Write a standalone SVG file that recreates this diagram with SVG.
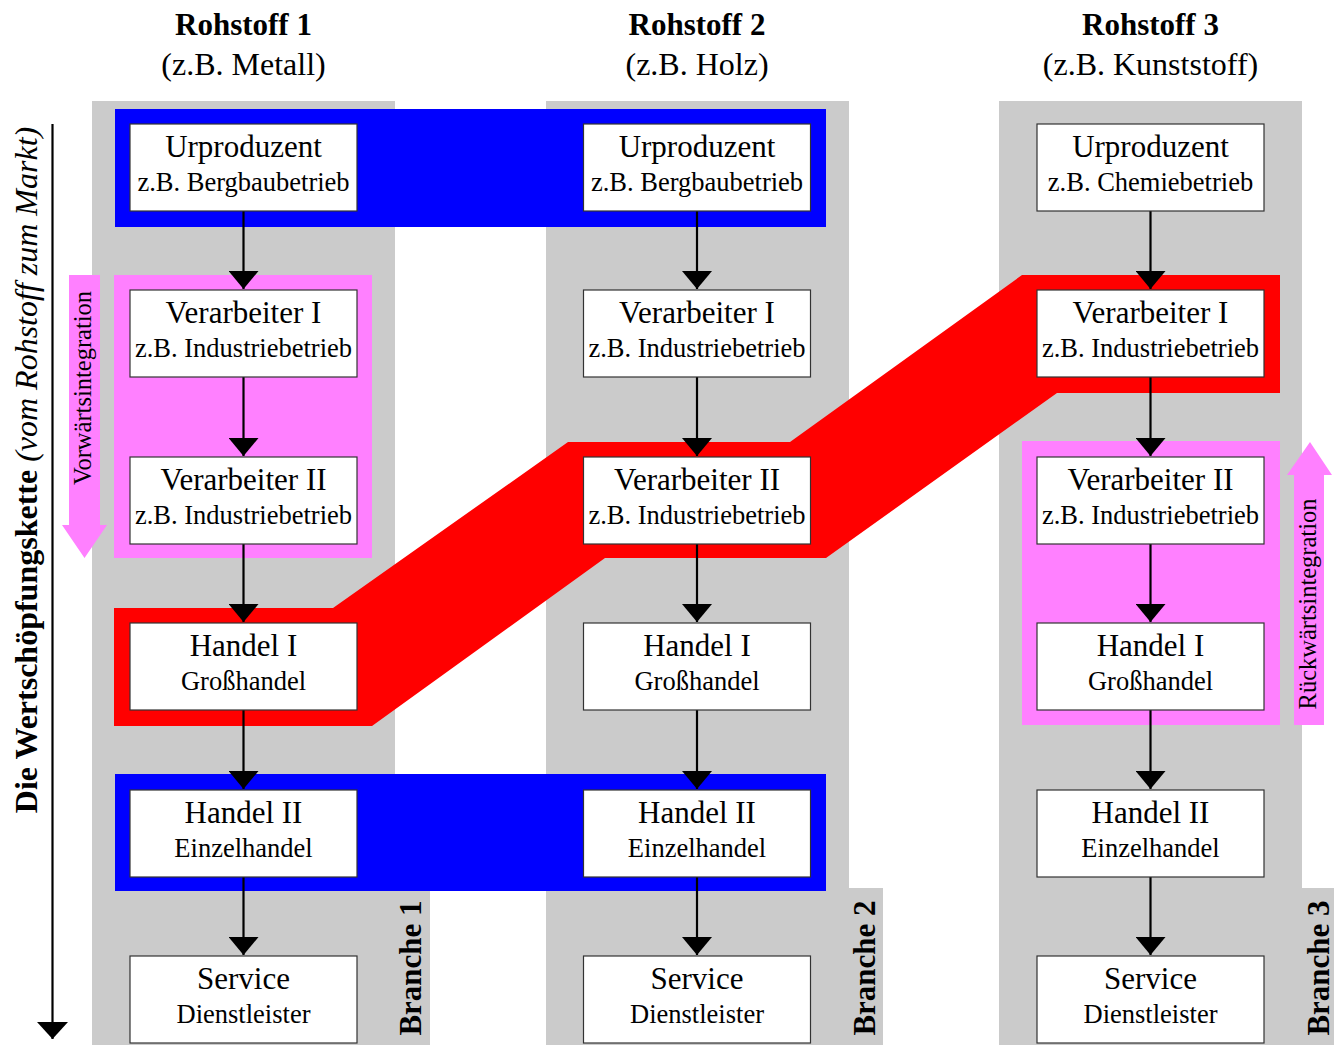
<svg xmlns="http://www.w3.org/2000/svg" width="1334" height="1045" viewBox="0 0 1334 1045">
<defs>
<style>
text{font-family:"Liberation Serif","Times New Roman",serif;fill:#000}
.col{fill:#cbcbcb}
.box{fill:#fff;stroke:#333;stroke-width:1.2}
.t1{font-size:31px;text-anchor:middle}
.t2{font-size:26.5px;text-anchor:middle}
.hd{font-size:31px;font-weight:bold;text-anchor:middle}
.sub{font-size:32px;text-anchor:middle}
.br{font-size:31px;font-weight:bold;text-anchor:middle}
.ln{stroke:#000;stroke-width:2.2;fill:none;marker-end:url(#ah)}
.pink{fill:#ff80ff}
</style>
<marker id="ah" markerUnits="userSpaceOnUse" markerWidth="18" markerHeight="30" viewBox="0 0 18 30" refX="18" refY="15" orient="auto">
<path d="M0,0 L18,15 L0,30 Z" fill="#000"/>
</marker>
<marker id="ah2" markerUnits="userSpaceOnUse" markerWidth="17" markerHeight="31" viewBox="0 0 17 31" refX="17" refY="15.5" orient="auto">
<path d="M0,0 L17,15.5 L0,31 Z" fill="#000"/>
</marker>
</defs>
<rect width="1334" height="1045" fill="#fff"/>

<g id="columns">
<rect class="col" x="92" y="101" width="303" height="944"/>
<rect class="col" x="395" y="888" width="35" height="157"/>
<rect class="col" x="546" y="101" width="303" height="944"/>
<rect class="col" x="849" y="888" width="34" height="157"/>
<rect class="col" x="999" y="101" width="303" height="944"/>
<rect class="col" x="1302" y="888" width="32" height="157"/>
</g>

<g id="highlights">
<rect x="115" y="109" width="711" height="118" fill="#0000ff"/>
<rect x="115" y="774" width="711" height="117" fill="#0000ff"/>
<polygon points="114,608 333,608 568,442 790,442 1022,275 1280,275 1280,393 1057,393 826,558 605,558 372,726 114,726" fill="#ff0000"/>
<rect class="pink" x="114" y="275" width="258" height="283"/>
<rect class="pink" x="1022" y="441" width="258" height="284"/>
<polygon class="pink" points="69,275 100,275 100,525 107,525 84.5,558 62,525 69,525"/>
<polygon class="pink" points="1294,725 1324,725 1324,475 1332,475 1310,442 1287,475 1294,475"/>
</g>

<g id="labels">
<text class="hd" x="243.5" y="35">Rohstoff 1</text>
<text class="sub" x="243.5" y="75">(z.B. Metall)</text>
<text class="hd" x="697" y="35">Rohstoff 2</text>
<text class="sub" x="697" y="75">(z.B. Holz)</text>
<text class="hd" x="1150.5" y="35">Rohstoff 3</text>
<text class="sub" x="1150.5" y="75">(z.B. Kunststoff)</text>
<text transform="translate(37,470) rotate(-90)" style="font-size:32px;text-anchor:middle"><tspan font-weight="bold">Die Wertschöpfungskette</tspan> <tspan font-style="italic">(vom Rohstoff zum Markt)</tspan></text>
<text transform="translate(91,388) rotate(-90)" style="font-size:24.5px;text-anchor:middle">Vorwärtsintegration</text>
<text transform="translate(1316,604) rotate(-90)" style="font-size:24.5px;text-anchor:middle">Rückwärtsintegration</text>
<text class="br" transform="translate(421,968) rotate(-90)">Branche 1</text>
<text class="br" transform="translate(875,968) rotate(-90)">Branche 2</text>
<text class="br" transform="translate(1329,968) rotate(-90)">Branche 3</text>
</g>

<g id="connectors">
<line x1="52.5" y1="124" x2="52.5" y2="1039" stroke="#000" stroke-width="2.2" marker-end="url(#ah2)"/>
<line class="ln" x1="243.5" y1="211" x2="243.5" y2="289"/>
<line class="ln" x1="243.5" y1="377" x2="243.5" y2="456"/>
<line class="ln" x1="243.5" y1="544" x2="243.5" y2="622"/>
<line class="ln" x1="243.5" y1="710" x2="243.5" y2="789"/>
<line class="ln" x1="243.5" y1="877" x2="243.5" y2="955"/>
<line class="ln" x1="697" y1="211" x2="697" y2="289"/>
<line class="ln" x1="697" y1="377" x2="697" y2="456"/>
<line class="ln" x1="697" y1="544" x2="697" y2="622"/>
<line class="ln" x1="697" y1="710" x2="697" y2="789"/>
<line class="ln" x1="697" y1="877" x2="697" y2="955"/>
<line class="ln" x1="1150.5" y1="211" x2="1150.5" y2="289"/>
<line class="ln" x1="1150.5" y1="377" x2="1150.5" y2="456"/>
<line class="ln" x1="1150.5" y1="544" x2="1150.5" y2="622"/>
<line class="ln" x1="1150.5" y1="710" x2="1150.5" y2="789"/>
<line class="ln" x1="1150.5" y1="877" x2="1150.5" y2="955"/>
</g>

<g id="n1-1"><rect class="box" x="130" y="124" width="227" height="87"/><text class="t1" x="243.5" y="157">Urproduzent</text><text class="t2" x="243.5" y="191">z.B. Bergbaubetrieb</text></g>
<g id="n1-2"><rect class="box" x="130" y="290" width="227" height="87"/><text class="t1" x="243.5" y="323">Verarbeiter I</text><text class="t2" x="243.5" y="357">z.B. Industriebetrieb</text></g>
<g id="n1-3"><rect class="box" x="130" y="457" width="227" height="87"/><text class="t1" x="243.5" y="490">Verarbeiter II</text><text class="t2" x="243.5" y="524">z.B. Industriebetrieb</text></g>
<g id="n1-4"><rect class="box" x="130" y="623" width="227" height="87"/><text class="t1" x="243.5" y="656">Handel I</text><text class="t2" x="243.5" y="690">Großhandel</text></g>
<g id="n1-5"><rect class="box" x="130" y="790" width="227" height="87"/><text class="t1" x="243.5" y="823">Handel II</text><text class="t2" x="243.5" y="857">Einzelhandel</text></g>
<g id="n1-6"><rect class="box" x="130" y="956" width="227" height="87"/><text class="t1" x="243.5" y="989">Service</text><text class="t2" x="243.5" y="1023">Dienstleister</text></g>

<g id="n2-1"><rect class="box" x="583.5" y="124" width="227" height="87"/><text class="t1" x="697" y="157">Urproduzent</text><text class="t2" x="697" y="191">z.B. Bergbaubetrieb</text></g>
<g id="n2-2"><rect class="box" x="583.5" y="290" width="227" height="87"/><text class="t1" x="697" y="323">Verarbeiter I</text><text class="t2" x="697" y="357">z.B. Industriebetrieb</text></g>
<g id="n2-3"><rect class="box" x="583.5" y="457" width="227" height="87"/><text class="t1" x="697" y="490">Verarbeiter II</text><text class="t2" x="697" y="524">z.B. Industriebetrieb</text></g>
<g id="n2-4"><rect class="box" x="583.5" y="623" width="227" height="87"/><text class="t1" x="697" y="656">Handel I</text><text class="t2" x="697" y="690">Großhandel</text></g>
<g id="n2-5"><rect class="box" x="583.5" y="790" width="227" height="87"/><text class="t1" x="697" y="823">Handel II</text><text class="t2" x="697" y="857">Einzelhandel</text></g>
<g id="n2-6"><rect class="box" x="583.5" y="956" width="227" height="87"/><text class="t1" x="697" y="989">Service</text><text class="t2" x="697" y="1023">Dienstleister</text></g>

<g id="n3-1"><rect class="box" x="1037" y="124" width="227" height="87"/><text class="t1" x="1150.5" y="157">Urproduzent</text><text class="t2" x="1150.5" y="191">z.B. Chemiebetrieb</text></g>
<g id="n3-2"><rect class="box" x="1037" y="290" width="227" height="87"/><text class="t1" x="1150.5" y="323">Verarbeiter I</text><text class="t2" x="1150.5" y="357">z.B. Industriebetrieb</text></g>
<g id="n3-3"><rect class="box" x="1037" y="457" width="227" height="87"/><text class="t1" x="1150.5" y="490">Verarbeiter II</text><text class="t2" x="1150.5" y="524">z.B. Industriebetrieb</text></g>
<g id="n3-4"><rect class="box" x="1037" y="623" width="227" height="87"/><text class="t1" x="1150.5" y="656">Handel I</text><text class="t2" x="1150.5" y="690">Großhandel</text></g>
<g id="n3-5"><rect class="box" x="1037" y="790" width="227" height="87"/><text class="t1" x="1150.5" y="823">Handel II</text><text class="t2" x="1150.5" y="857">Einzelhandel</text></g>
<g id="n3-6"><rect class="box" x="1037" y="956" width="227" height="87"/><text class="t1" x="1150.5" y="989">Service</text><text class="t2" x="1150.5" y="1023">Dienstleister</text></g>
</svg>
